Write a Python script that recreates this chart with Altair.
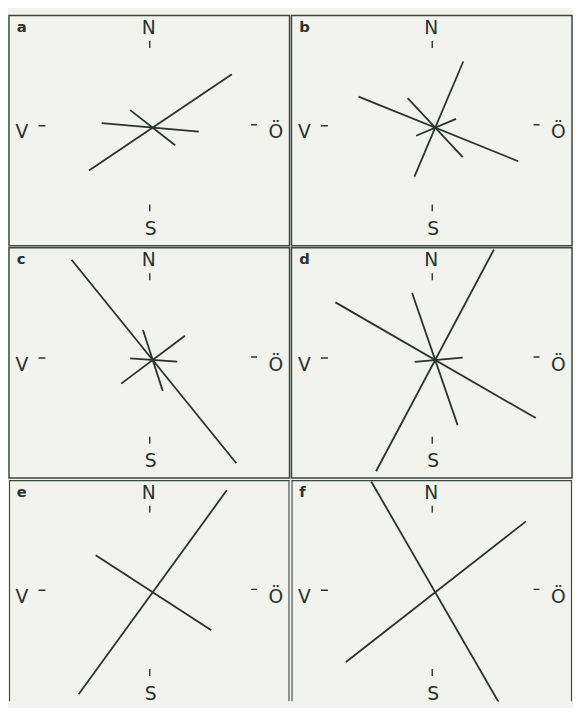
import math
import altair as alt
import pandas as pd

# ---- data: each line = azimuth (deg, clockwise from N), half-length along azimuth, half-length opposite
panel_letters = ["a", "b", "c", "d", "e", "f"]

az_a = [56, 95, 128]
fwd_a = [97, 47, 29]
back_a = [78, 52, 29]

az_b = [23, 112, 137, 67]
fwd_b = [73, 91, 41, 23]
back_b = [54, 84, 41, 21]

az_c = [141, 162, 53, 94]
fwd_c = [135, 33, 41, 25]
back_c = [131, 32, 40, 23]

az_d = [28, 120, 161, 85]
fwd_d = [127, 118, 70, 28]
back_d = [128, 117, 72, 21]

az_e = [36, 123]
fwd_e = [128, 71]
back_e = [128, 69]

az_f = [150, 52]
fwd_f = [129, 117]
back_f = [130, 115]

compass_labels = ["N", "S", "V", "Ö"]

panel_data = {
    "a": (az_a, fwd_a, back_a),
    "b": (az_b, fwd_b, back_b),
    "c": (az_c, fwd_c, back_c),
    "d": (az_d, fwd_d, back_d),
    "e": (az_e, fwd_e, back_e),
    "f": (az_f, fwd_f, back_f),
}

# ---- styling / layout
PAPER = "#f2f2ee"
INK = "#2a322e"
BORDER = "#3b4741"
W = 285
H_FULL = 234
H_LAST = 225          # last row runs off the page edge
X_DOM = [-146, 139]
Y_TOP = 114
FONT = "DejaVu Sans"

# compass decorations (layout)
tick_df = pd.DataFrame({
    "x": [-3, -3, -116, 100],
    "y": [81, -78, 2, 3],
    "x2": [-3, -3, -109, 106],
    "y2": [88, -85, 2, 3],
})
label_df = pd.DataFrame({
    "label": compass_labels,
    "x": [-4, -2, -133, 125],
    "y": [95, -109, -11, -11],
})


def make_panel(letter, h, last):
    xs = alt.Scale(domain=X_DOM, nice=False, zero=False)
    ys = alt.Scale(domain=[Y_TOP - h, Y_TOP], nice=False, zero=False)

    def X(f):
        return alt.X(f, scale=xs, axis=None)

    def Y(f):
        return alt.Y(f, scale=ys, axis=None)

    az, fwd, back = panel_data[letter]
    rows = []
    for a, f, b in zip(az, fwd, back):
        r = math.radians(a)
        rows.append({
            "x": f * math.sin(r), "y": f * math.cos(r),
            "x2": -b * math.sin(r), "y2": -b * math.cos(r),
        })
    lines = pd.DataFrame(rows)

    layers = [
        alt.Chart(lines).mark_rule(color=INK, strokeWidth=1.8, clip=True).encode(
            x=X("x:Q"), y=Y("y:Q"), x2="x2:Q", y2="y2:Q"),
        alt.Chart(tick_df).mark_rule(color=INK, strokeWidth=1.4, clip=True).encode(
            x=X("x:Q"), y=Y("y:Q"), x2="x2:Q", y2="y2:Q"),
        alt.Chart(label_df).mark_text(
            font=FONT, fontSize=19, color=INK, align="center", baseline="alphabetic", clip=True
        ).encode(x=X("x:Q"), y=Y("y:Q"), text="label:N"),
        alt.Chart(pd.DataFrame({"t": [letter], "x": [-138], "y": [97]})).mark_text(
            font=FONT, fontSize=15, fontWeight="bold", color=INK, align="left",
            baseline="alphabetic", clip=True
        ).encode(x=X("x:Q"), y=Y("y:Q"), text="t:N"),
    ]

    if last:
        # frame open at the bottom (runs off the page): left, top, right edges
        frame = pd.DataFrame({
            "x": [X_DOM[0], X_DOM[0], X_DOM[1]],
            "y": [Y_TOP, Y_TOP, Y_TOP],
            "x2": [X_DOM[0], X_DOM[1], X_DOM[1]],
            "y2": [Y_TOP - h, Y_TOP, Y_TOP - h],
        })
        layers.append(alt.Chart(frame).mark_rule(color=BORDER, strokeWidth=2.2, clip=True).encode(
            x=X("x:Q"), y=Y("y:Q"), x2="x2:Q", y2="y2:Q"))
        view = alt.ViewBackground(stroke="transparent")
    else:
        view = alt.ViewBackground(stroke=BORDER, strokeWidth=1.5)

    return alt.layer(*layers).properties(width=W, height=h, view=view)


rows = []
for i in range(0, 6, 2):
    last = i == 4
    h = H_LAST if last else H_FULL
    rows.append(alt.hconcat(
        make_panel(panel_letters[i], h, last),
        make_panel(panel_letters[i + 1], h, last),
        spacing=0,
    ))

chart = alt.vconcat(*rows, spacing=0).properties(
    background=PAPER,
    padding={"left": 0, "top": 1, "right": 0, "bottom": 0},
).configure_concat(spacing=0)

chart.save("out.html", embed_options={"renderer": "svg", "actions": False})
